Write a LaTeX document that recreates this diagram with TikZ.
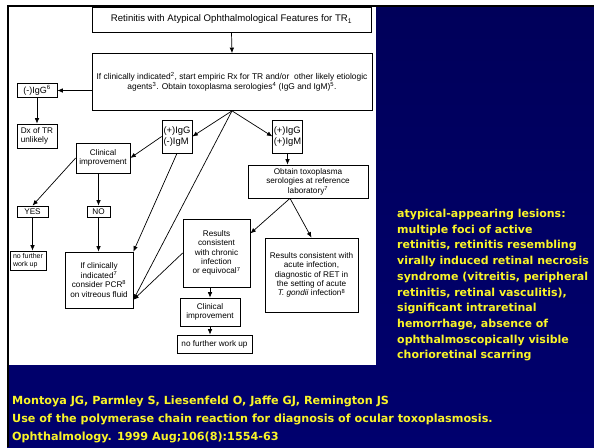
\documentclass[tikz,border=0pt]{standalone}
\usepackage{fontspec}
\setmainfont{Liberation Sans}
\newfontfamily\slidefont{DejaVu Sans}
\usetikzlibrary{arrows.meta,calc}
\definecolor{slidetop}{RGB}{0,0,90}
\definecolor{slidemid}{RGB}{26,26,200}
\definecolor{slidebot}{RGB}{0,0,110}
\definecolor{slideyellow}{RGB}{250,245,40}

\begin{document}
\begin{tikzpicture}[x=1pt,y=-1pt,>={Latex[length=5.5pt,width=4.5pt]},
  chart/.style={draw,line width=0.7pt,fill=white,align=center,inner sep=1pt,
    font=\fontsize{8.2}{9.4}\selectfont},
  flow/.style={->,line width=0.7pt},
  note/.style={text=slideyellow,align=left,anchor=north west,inner sep=0pt,
    font=\slidefont\bfseries\fontsize{11}{15.7}\selectfont}]

  \useasboundingbox (0,0) rectangle (594,447);
  \fill[white] (0,0) rectangle (594,447);
  \shade[top color=slidetop,middle color=slidemid,bottom color=slidebot]
    (7,5) rectangle (594,447);
  \fill[white] (9,7) rectangle (376,365);
  \fill (7,5) rectangle (594,7);
  \fill (7,5) rectangle (9,447);

  \node[chart,minimum width=279,minimum height=25,
    font=\fontsize{9.6}{11}\selectfont] (title) at (231.5,19.5)
    {Retinitis with Atypical Ophthalmological Features for TR\textsubscript{1}};
  \node[chart,minimum width=280,minimum height=57,
    font=\fontsize{8.4}{10}\selectfont] (main) at (232,82)
    {If clinically indicated\textsuperscript{2}, start empiric Rx for TR and/or\ \ other likely etiologic\\
     agents\textsuperscript{3}. Obtain toxoplasma serologies\textsuperscript{4} (IgG and IgM)\textsuperscript{5}.};
  \node[chart,minimum width=40,minimum height=14,
    font=\fontsize{9}{10}\selectfont] (negigg) at (37,90.5)
    {(-)IgG\textsuperscript{6}};
  \node[chart,minimum width=40,minimum height=24,align=left] (dx) at (37,136)
    {Dx of TR\\unlikely};
  \node[chart,minimum width=30,minimum height=33,align=left,
    font=\fontsize{9.4}{11.5}\selectfont] (posneg) at (177,136.5)
    {(+)IgG\\(-)IgM};
  \node[chart,minimum width=29,minimum height=33,align=left,
    font=\fontsize{9.4}{11.5}\selectfont] (pospos) at (287.5,136.5)
    {(+)IgG\\(+)IgM};
  \node[chart,minimum width=54,minimum height=30] (clinleft) at (103,158)
    {Clinical\\improvement};
  \node[chart,minimum width=120,minimum height=33] (reflab) at (308,181.5)
    {Obtain toxoplasma\\serologies at reference\\laboratory\textsuperscript{7}};
  \node[chart,minimum width=31,minimum height=11] (yes) at (32.5,211.5) {YES};
  \node[chart,minimum width=23,minimum height=11] (no) at (98.5,211.5) {NO};
  \node[chart,minimum width=36,minimum height=19,align=left,
    font=\fontsize{7}{8.4}\selectfont] (stopleft) at (28,260.5)
    {no further\\work up};
  \node[chart,minimum width=68,minimum height=56] (pcr) at (99,280)
    {If clinically\\indicated\textsuperscript{7}\\consider PCR\textsuperscript{8}\\on vitreous fluid};
  \node[chart,minimum width=67,minimum height=68] (chronic) at (216.5,253)
    {Results\\consistent\\with chronic\\infection\\or equivocal\textsuperscript{7}};
  \node[chart,minimum width=93,minimum height=74] (acute) at (311.5,275)
    {Results consistent with\\acute infection,\\diagnostic of RET in\\the setting of acute\\
     \textit{T. gondii} infection\textsuperscript{8}};
  \node[chart,minimum width=60,minimum height=28] (clinlow) at (210,312)
    {Clinical\\improvement};
  \node[chart,minimum width=75,minimum height=18] (stoplow) at (214.5,344)
    {no further work up};

  \draw[flow] (title.south) -- (main.north);
  \draw[flow] (main.west |- negigg.east) -- (negigg.east);
  \draw[flow] (negigg.south) -- (negigg.south |- dx.north);
  \draw[flow] (main.south) -- (posneg.east);
  \draw[flow] (main.south) -- (pospos.west);
  \draw[flow] (main.south) -- (pcr.-30);
  \draw[flow] (posneg.south) -- (pcr.north east);
  \draw[flow] (posneg.west) -- (clinleft.east);
  \draw[flow] (clinleft.west) -- (yes.north);
  \draw[flow] (no.north |- clinleft.south) -- (no.north);
  \draw[flow] (yes.south) -- (yes.south |- stopleft.north);
  \draw[flow] (no.south) -- (no.south |- pcr.north);
  \draw[flow] (pospos.south) -- (pospos.south |- reflab.north);
  \draw[flow] ([xshift=-18pt]reflab.south) -- (chronic.30);
  \draw[flow] ([xshift=-18pt]reflab.south) -- (acute.north);
  \draw[flow] (chronic.west) -- (pcr.-30);
  \draw[flow] (clinlow.north |- chronic.south) -- (clinlow.north);
  \draw[flow] (clinlow.south) -- (clinlow.south |- stoplow.north);

  \node[note] (lesions) at (397,209)
    {atypical-appearing lesions:\\
     multiple foci of active\\
     retinitis, retinitis resembling\\
     virally induced retinal necrosis\\
     syndrome (vitreitis, peripheral\\
     retinitis, retinal vasculitis),\\
     significant intraretinal\\
     hemorrhage, absence of\\
     ophthalmoscopically visible\\
     chorioretinal scarring};
  \node[note,font=\slidefont\bfseries\fontsize{11.2}{18}\selectfont] (source) at (12,396)
    {Montoya JG, Parmley S, Liesenfeld O, Jaffe GJ, Remington JS\\
     Use of the polymerase chain reaction for diagnosis of ocular toxoplasmosis.\\
     Ophthalmology. 1999 Aug;106(8):1554-63};
\end{tikzpicture}
\end{document}
